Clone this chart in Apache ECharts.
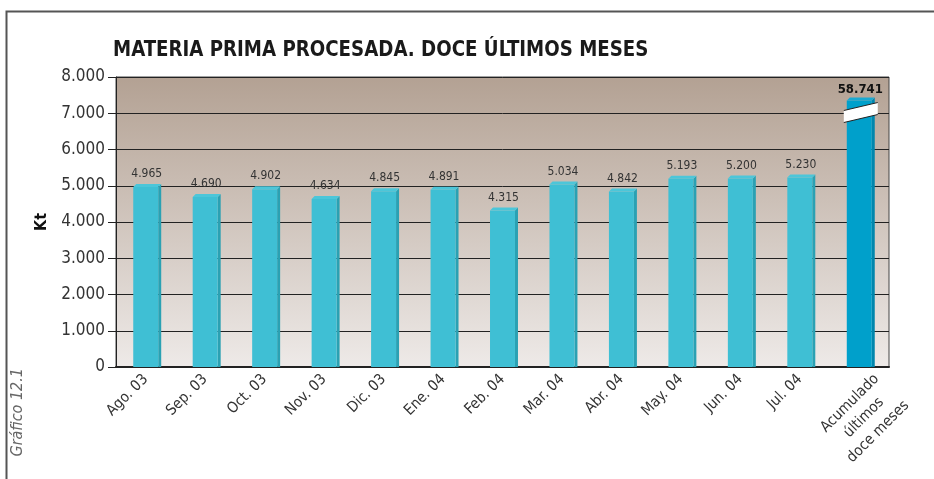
<!DOCTYPE html>
<html>
<head>
<meta charset="utf-8">
<script src="https://cdn.jsdelivr.net/npm/echarts@6/dist/echarts.min.js"></script>
<style>
  html, body { margin: 0; padding: 0; background: #fff; }
  #main { width: 934px; height: 479px; }
</style>
</head>
<body>
<div id="main"></div>
<script>
var myChart = echarts.init(document.getElementById('main'));

// datos
var months = ['Ago. 03', 'Sep. 03', 'Oct. 03', 'Nov. 03', 'Dic. 03', 'Ene. 04',
              'Feb. 04', 'Mar. 04', 'Abr. 04', 'May. 04', 'Jun. 04', 'Jul. 04'];
var monthValues = [4965, 4690, 4902, 4634, 4845, 4891, 4315, 5034, 4842, 5193, 5200, 5230];
var totalName = 'Acumulado\núltimos\ndoce meses';
var totalValue = 58741;
var totalDrawnAt = 7350;   // barra cortada: altura dibujada en el eje
var breakAt = 7020;        // centro del corte
var yTicks = [0, 1000, 2000, 3000, 4000, 5000, 6000, 7000, 8000];

var FONT = "'Liberation Sans Narrow', 'DejaVu Sans Condensed', sans-serif";

function fmt(v) {
    return String(v).replace(/\B(?=(\d{3})+(?!\d))/g, '.');
}

var categories = months.concat([{
    value: totalName,
    textStyle: { padding: [64, -15, 0, 0] }
}]);
var seriesData = monthValues.map(function (v, i) { return [i, v, v, 0]; });
seriesData.push([months.length, totalDrawnAt, totalValue, 1]);

function renderBar(params, api) {
    var i = api.value(0);
    var v = api.value(1);
    var real = api.value(2);
    var isTotal = api.value(3) === 1;
    var top = api.coord([i, v]);
    var bottom = api.coord([i, 0]);
    var bw = api.size([1, 0])[0] * 0.42;
    var s = 3;
    var xl = top[0] - bw / 2;
    var xr = top[0] + bw / 2;
    var front = isTotal ? '#00a0cb' : '#3fbfd4';
    var side = isTotal ? '#0086ad' : '#2aa1b3';
    var cap = isTotal ? '#1aa9d2' : '#4cc6d9';

    var children = [
        { type: 'polygon', shape: { points: [[xr, top[1]], [xr + s, top[1] - s], [xr + s, bottom[1]], [xr, bottom[1]]] },
          style: { fill: side } },
        { type: 'rect', shape: { x: xl, y: top[1], width: bw, height: bottom[1] - top[1] },
          style: { fill: front } },
        { type: 'polygon', shape: { points: [[xl, top[1]], [xl + s, top[1] - s], [xr + s, top[1] - s], [xr, top[1]]] },
          style: { fill: cap } },
        { type: 'text', x: top[0] + 1, y: top[1] - (isTotal ? 4 : 7),
          style: { text: fmt(real), textAlign: 'center', textVerticalAlign: 'bottom',
                   font: (isTotal ? 'bold 13px ' : '12px ') + FONT, fill: isTotal ? '#111' : '#333' } }
    ];

    if (isTotal) {
        var c = api.coord([i, breakAt]);
        var x0 = xl - 3, x1 = xr + 6;
        var h = 6, sl = 4;
        children.push({ type: 'polygon',
            shape: { points: [[x0, c[1] - h + sl], [x1, c[1] - h - sl], [x1, c[1] + h - sl], [x0, c[1] + h + sl]] },
            style: { fill: '#fff' } });
        children.push({ type: 'line', shape: { x1: x0, y1: c[1] - h + sl, x2: x1, y2: c[1] - h - sl },
            style: { stroke: '#222', lineWidth: 1 } });
        children.push({ type: 'line', shape: { x1: x0, y1: c[1] + h + sl, x2: x1, y2: c[1] + h - sl },
            style: { stroke: '#222', lineWidth: 1 } });
    }
    return { type: 'group', children: children };
}

var option = {
    animation: false,
    graphic: [
        { type: 'rect', left: 4, top: 9, shape: { width: 940, height: 480 },
          style: { fill: 'none', stroke: '#555', lineWidth: 2 } },
        { type: 'text', left: 113, top: 39, scaleX: 0.92,
          style: { text: 'MATERIA PRIMA PROCESADA. DOCE ÚLTIMOS MESES',
                   font: 'bold 22px ' + FONT, fill: '#1a1a1a' } },
        { type: 'text', left: 10, top: 368, rotation: Math.PI / 2,
          style: { text: 'Gráfico 12.1', font: 'italic 16px ' + FONT, fill: '#666' } }
    ],
    grid: {
        left: 116,
        right: 45,
        top: 77,
        bottom: 112,
        show: true,
        borderColor: '#444',
        borderWidth: 1,
        backgroundColor: new echarts.graphic.LinearGradient(0, 0, 0, 1, [
            { offset: 0, color: '#b3a193' },
            { offset: 1, color: '#eeeae8' }
        ])
    },
    xAxis: {
        type: 'category',
        data: categories,
        axisTick: { show: false },
        axisLine: { lineStyle: { color: '#222', width: 2 } },
        axisLabel: {
            rotate: 45,
            interval: 0,
            margin: 10,
            fontFamily: FONT,
            fontSize: 15,
            color: '#333',
            formatter: function (v) {
                if (v === totalName) {
                    return v.split('\n').map(function (t) { return '{t|' + t + '}'; }).join('\n');
                }
                return v;
            },
            rich: {
                t: { align: 'center', fontFamily: FONT, fontSize: 15, color: '#333', lineHeight: 20 }
            }
        }
    },
    yAxis: {
        type: 'value',
        min: yTicks[0],
        max: yTicks[yTicks.length - 1],
        interval: 1000,
        name: 'Kt',
        nameLocation: 'middle',
        nameRotate: 90,
        nameGap: 62,
        nameTextStyle: { fontFamily: FONT, fontSize: 16, fontWeight: 'bold', color: '#111' },
        axisLine: { show: true, lineStyle: { color: '#222' } },
        axisTick: { show: true, length: 8, lineStyle: { color: '#222' } },
        splitLine: { lineStyle: { color: '#222', width: 1 } },
        axisLabel: {
            fontFamily: FONT,
            fontSize: 17,
            color: '#333',
            margin: 11,
            formatter: function (v) { return fmt(v); }
        }
    },
    series: [
        {
            type: 'custom',
            renderItem: renderBar,
            clip: false,
            encode: { x: 0, y: 1 },
            data: seriesData
        }
    ]
};
myChart.setOption(option);
</script>
</body>
</html>
